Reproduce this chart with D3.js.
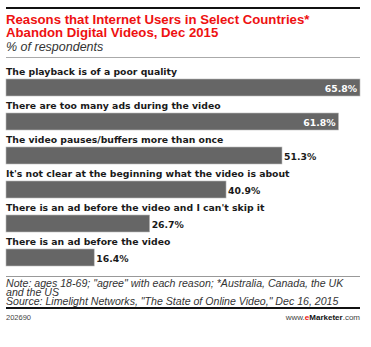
<!DOCTYPE html>
<html><head><meta charset="utf-8">
<script src="https://cdn.jsdelivr.net/npm/d3@7"></script>
<style>
html,body{margin:0;padding:0;background:#fff;}
</style></head>
<body>
<script>
const categories = [
  "The playback is of a poor quality",
  "There are too many ads during the video",
  "The video pauses/buffers more than once",
  "It's not clear at the beginning what the video is about",
  "There is an ad before the video and I can't skip it",
  "There is an ad before the video"
];
const values = [65.8, 61.8, 51.3, 40.9, 26.7, 16.4];
const titleLines = ["Reasons that Internet Users in Select Countries*", "Abandon Digital Videos, Dec 2015"];
const subtitle = "% of respondents";
const noteLines = ["Note: ages 18-69; \"agree\" with each reason; *Australia, Canada, the UK", "and the US", "Source: Limelight Networks, \"The State of Online Video,\" Dec 16, 2015"];
const chartId = "202690";

const W = 371, H = 347, L = 6, R = 360;
const svg = d3.select("body").append("svg").attr("width", W).attr("height", H);

svg.append("rect").attr("x", L).attr("y", 7).attr("width", R - L).attr("height", 2).attr("fill", "#111");
const tFont = "'Liberation Sans', Arial, sans-serif";
titleLines.forEach((t, i) => {
  svg.append("text").attr("x", L).attr("y", 24 + i * 13).text(t)
    .attr("font-family", tFont).attr("font-weight", "bold").attr("font-size", 13.2).attr("fill", "#ee1111");
});
svg.append("text").attr("x", L).attr("y", 51).text(subtitle)
  .attr("font-family", tFont).attr("font-style", "italic").attr("font-size", 12.5).attr("fill", "#333");
svg.append("rect").attr("x", L).attr("y", 57).attr("width", R - L).attr("height", 1).attr("fill", "#aaa");

const x = d3.scaleLinear().domain([0, d3.max(values)]).range([L, R]);
const pitch = 34, barTop0 = 79, barH = 17;
const y = d3.scaleLinear().domain([0, 1]).range([barTop0, barTop0 + pitch]);
const g = svg.append("g");
categories.forEach((c, i) => {
  const bt = y(i);
  g.append("text").attr("x", L).attr("y", bt - 4).text(c)
    .attr("font-family", "'DejaVu Sans', Verdana, sans-serif").attr("font-weight", "bold").attr("font-size", 9.3).attr("fill", "#1a1a1a");
  g.append("rect").attr("x", x(0)).attr("y", bt).attr("width", x(values[i]) - x(0)).attr("height", barH)
    .attr("fill", "#666").attr("stroke", "#bbb").attr("stroke-width", 0.6);
  const inside = i < 2;
  g.append("text")
    .attr("x", inside ? x(values[i]) - 3 : x(values[i]) + 2)
    .attr("y", bt + 12.5)
    .attr("text-anchor", inside ? "end" : "start")
    .text(values[i].toFixed(1) + "%")
    .attr("font-family", "'DejaVu Sans', Verdana, sans-serif").attr("font-weight", "bold").attr("font-size", 9.3)
    .attr("fill", inside ? "#fff" : "#1a1a1a");
});

svg.append("rect").attr("x", L).attr("y", 276).attr("width", R - L).attr("height", 1).attr("fill", "#999");
noteLines.forEach((t, i) => {
  svg.append("text").attr("x", L).attr("y", 286.5 + i * 9.4).text(t)
    .attr("font-family", tFont).attr("font-style", "italic").attr("font-size", 10.6).attr("fill", "#333");
});
svg.append("rect").attr("x", L).attr("y", 307).attr("width", R - L).attr("height", 2).attr("fill", "#111");
svg.append("text").attr("x", L).attr("y", 320).text(chartId)
  .attr("font-family", tFont).attr("font-size", 7.5).attr("fill", "#444");
const wm = svg.append("text").attr("x", R).attr("y", 320).attr("text-anchor", "end")
  .attr("font-family", tFont).attr("font-size", 8).attr("fill", "#444");
wm.append("tspan").text("www.");
wm.append("tspan").text("e").attr("fill", "#e11").attr("font-weight", "bold");
wm.append("tspan").text("Marketer").attr("fill", "#111").attr("font-weight", "bold");
wm.append("tspan").text(".com");
</script>
</body></html>
